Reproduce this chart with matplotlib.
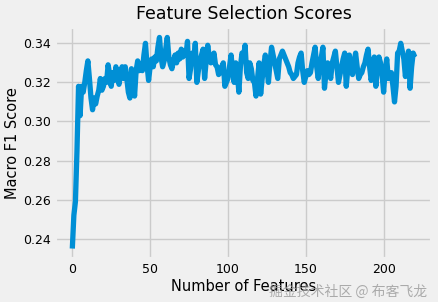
import matplotlib
matplotlib.use("Agg")
import matplotlib.pyplot as plt

plt.style.use("fivethirtyeight")

scores = [
    0.235, 0.252, 0.259, 0.285, 0.318, 0.303, 0.318, 0.315, 0.320, 0.326,
    0.331, 0.322, 0.312, 0.306, 0.312, 0.309, 0.313, 0.316, 0.322, 0.316,
    0.318, 0.322, 0.320, 0.329, 0.324, 0.318, 0.325, 0.321, 0.328, 0.324,
    0.319, 0.325, 0.328, 0.322, 0.328, 0.322, 0.315, 0.312, 0.327, 0.324,
    0.313, 0.326, 0.331, 0.326, 0.329, 0.326, 0.334, 0.340, 0.329, 0.321,
    0.328, 0.332, 0.328, 0.333, 0.331, 0.338, 0.343, 0.333, 0.328, 0.331,
    0.337, 0.343, 0.333, 0.329, 0.327, 0.331, 0.334, 0.330, 0.335, 0.332,
    0.337, 0.333, 0.336, 0.334, 0.341, 0.322, 0.327, 0.335, 0.330, 0.340,
    0.320, 0.326, 0.331, 0.334, 0.337, 0.322, 0.331, 0.339, 0.333, 0.330,
    0.332, 0.335, 0.329, 0.328, 0.324, 0.325, 0.328, 0.330, 0.318, 0.320,
    0.322, 0.328, 0.334, 0.326, 0.320, 0.330, 0.325, 0.315, 0.328, 0.335,
    0.333, 0.339, 0.325, 0.322, 0.330, 0.327, 0.321, 0.320, 0.313, 0.322,
    0.330, 0.314, 0.322, 0.329, 0.334, 0.327, 0.320, 0.330, 0.338, 0.334,
    0.330, 0.326, 0.322, 0.332, 0.334, 0.336, 0.334, 0.332, 0.330, 0.328,
    0.325, 0.324, 0.322, 0.323, 0.324, 0.330, 0.333, 0.335, 0.326, 0.320,
    0.323, 0.326, 0.324, 0.325, 0.330, 0.334, 0.338, 0.328, 0.322, 0.330,
    0.333, 0.338, 0.317, 0.325, 0.330, 0.326, 0.322, 0.330, 0.333, 0.336,
    0.328, 0.320, 0.324, 0.328, 0.332, 0.335, 0.318, 0.327, 0.334, 0.328,
    0.324, 0.330, 0.335, 0.328, 0.322, 0.324, 0.325, 0.328, 0.330, 0.334,
    0.337, 0.328, 0.321, 0.326, 0.333, 0.318, 0.327, 0.333, 0.330, 0.324,
    0.315, 0.326, 0.332, 0.322, 0.324, 0.325, 0.318, 0.310, 0.318, 0.335,
    0.336, 0.340, 0.336, 0.332, 0.323, 0.330, 0.336, 0.317, 0.328, 0.335,
    0.333,
]
n_features = list(range(len(scores)))

title = "Feature Selection Scores"
xlabel = "Number of Features"
ylabel = "Macro F1 Score"
watermark = "掘金技术社区 @ 布客飞龙"

fig = plt.figure(figsize=(4.38, 3.02), dpi=100)
ax = fig.add_axes([0.126, 0.142, 0.86, 0.769])
ax.plot(n_features, scores, color="#008fd5", lw=3.8)
ax.set_title(title, fontsize=12.5, pad=6)
ax.set_xlabel(xlabel, fontsize=10.5, labelpad=2)
ax.set_ylabel(ylabel, fontsize=10.5, labelpad=2)
ax.set_xticks([0, 50, 100, 150, 200])
ax.set_yticks([0.24, 0.26, 0.28, 0.30, 0.32, 0.34])
ax.set_yticklabels(["0.24", "0.26", "0.28", "0.30", "0.32", "0.34"])
ax.tick_params(labelsize=9, pad=3)
ax.grid(True, color="#cbcbcb", lw=1)

fig.text(0.975, 0.035, watermark, ha="right", va="center", fontsize=10,
         color="#999999", alpha=0.8,
         family=["Noto Sans CJK SC", "DejaVu Sans"])

fig.savefig("out.png", dpi=100, facecolor=fig.get_facecolor())
